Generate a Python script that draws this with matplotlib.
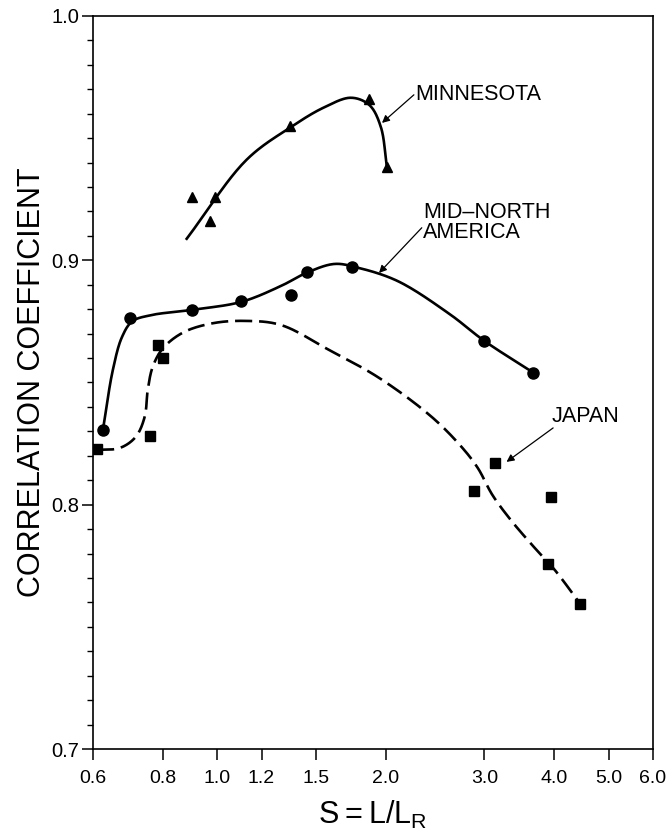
import numpy as np
import matplotlib
matplotlib.use("Agg")
import matplotlib.pyplot as plt
from matplotlib.ticker import MultipleLocator, NullLocator

plt.rcParams['font.family'] = ['Liberation Sans', 'DejaVu Sans']
plt.rcParams['mathtext.fontset'] = 'custom'
plt.rcParams['mathtext.rm'] = 'Liberation Sans'

# measured points
minn_s = [0.90, 0.99, 0.97, 1.35, 1.87, 2.01]
minn_r = [0.926, 0.926, 0.916, 0.955, 0.966, 0.938]

mna_s = [0.625, 0.70, 0.90, 1.105, 1.356, 1.448, 1.741, 3.0, 3.67]
mna_r = [0.8306, 0.8764, 0.8797, 0.8834, 0.8858, 0.8953, 0.8973, 0.867, 0.854]

jap_s = [0.61, 0.783, 0.799, 0.758, 3.13, 2.87, 3.95, 3.90, 4.45]
jap_r = [0.8228, 0.8654, 0.860, 0.828, 0.817, 0.8056, 0.803, 0.7757, 0.7594]

# hand drawn fit curves
minn_fit_s = [0.882, 1.128, 1.356, 1.55, 1.734, 1.87, 1.96, 2.009]
minn_fit_r = [0.9088, 0.9411, 0.9546, 0.9625, 0.9665, 0.9635, 0.9545, 0.9382]

mna_fit_s = [0.625, 0.651, 0.676, 0.705, 0.76, 0.90, 1.105, 1.30, 1.448,
             1.62, 1.78, 2.1, 2.6, 3.0, 3.67]
mna_fit_r = [0.8306, 0.8551, 0.8686, 0.8750, 0.8775, 0.8797, 0.8830, 0.8895, 0.8950,
             0.8985, 0.8970, 0.8915, 0.8780, 0.867, 0.854]

jap_fit_s = [0.61, 0.67, 0.715, 0.742, 0.7516, 0.767, 0.80, 0.87, 0.98, 1.12, 1.30,
             1.584, 1.945, 2.416, 2.732, 2.92, 3.10, 3.35, 3.70, 4.00, 4.45]
jap_fit_r = [0.8224, 0.8232, 0.8277, 0.8359, 0.847, 0.8564, 0.8640, 0.8705, 0.8742, 0.8752, 0.8735,
             0.8633, 0.8519, 0.8359, 0.8236, 0.8150, 0.8040, 0.7935, 0.7820, 0.7735, 0.7594]

xticks = [0.6, 0.8, 1.0, 1.2, 1.5, 2.0, 3.0, 4.0, 5.0, 6.0]
xticklabels = ['0.6', '0.8', '1.0', '1.2', '1.5', '2.0', '3.0', '4.0', '5.0', '6.0']
yticks = [0.7, 0.8, 0.9, 1.0]
yticklabels = ['0.7', '0.8', '0.9', '1.0']


def smooth(xs, ys, n=24):
    # centripetal catmull-rom through the traced points (log x, roughly square scaling)
    p = np.column_stack([np.log10(np.asarray(xs, float)) * 560.0,
                         np.asarray(ys, float) * 2440.0])
    p = np.vstack([2 * p[0] - p[1], p, 2 * p[-1] - p[-2]])
    out = []
    for i in range(1, len(p) - 2):
        p0, p1, p2, p3 = p[i - 1], p[i], p[i + 1], p[i + 2]
        t0 = 0.0
        t1 = t0 + np.linalg.norm(p1 - p0) ** 0.5
        t2 = t1 + np.linalg.norm(p2 - p1) ** 0.5
        t3 = t2 + np.linalg.norm(p3 - p2) ** 0.5
        t = np.linspace(t1, t2, n, endpoint=False)[:, None]
        a1 = (t1 - t) / (t1 - t0) * p0 + (t - t0) / (t1 - t0) * p1
        a2 = (t2 - t) / (t2 - t1) * p1 + (t - t1) / (t2 - t1) * p2
        a3 = (t3 - t) / (t3 - t2) * p2 + (t - t2) / (t3 - t2) * p3
        b1 = (t2 - t) / (t2 - t0) * a1 + (t - t0) / (t2 - t0) * a2
        b2 = (t3 - t) / (t3 - t1) * a2 + (t - t1) / (t3 - t1) * a3
        out.append((t2 - t) / (t2 - t1) * b1 + (t - t1) / (t2 - t1) * b2)
    out.append(p[-2][None, :])
    out = np.vstack(out)
    return 10 ** (out[:, 0] / 560.0), out[:, 1] / 2440.0


fig = plt.figure(figsize=(6.69, 8.36), dpi=100)
ax = fig.add_axes([0.139, 0.104, 0.837, 0.877])

ax.set_xscale('log')
ax.set_xlim(0.6, 6.0)
ax.set_ylim(0.7, 1.0)

lw = 1.9
x, y = smooth(minn_fit_s, minn_fit_r)
ax.plot(x, y, color='black', lw=lw)
x, y = smooth(mna_fit_s, mna_fit_r)
ax.plot(x, y, color='black', lw=lw)
x, y = smooth(jap_fit_s, jap_fit_r)
ax.plot(x, y, color='black', lw=lw, dashes=(6.5, 2.6))

ax.plot(minn_s, minn_r, linestyle='none', marker='^', ms=7.5, color='black')
ax.plot(mna_s, mna_r, linestyle='none', marker='o', ms=8, color='black')
ax.plot(jap_s, jap_r, linestyle='none', marker='s', ms=7.5, color='black')

arrow = dict(arrowstyle='-|>', color='black', lw=0.9, mutation_scale=11, shrinkA=0, shrinkB=0)
ax.annotate('', xy=(1.969, 0.9562), xytext=(2.245, 0.9677), arrowprops=arrow)
ax.text(2.26, 0.9677, 'MINNESOTA', fontsize=15.5, ha='left', va='center')

ax.annotate('', xy=(1.945, 0.8948), xytext=(2.319, 0.9133), arrowprops=arrow)
ax.text(2.33, 0.9153, 'MID\u2013NORTH\nAMERICA', fontsize=15.5, ha='left', va='center',
        linespacing=0.95)

ax.annotate('', xy=(3.286, 0.8175), xytext=(3.98, 0.8314), arrowprops=arrow)
ax.text(3.95, 0.8359, 'JAPAN', fontsize=15.5, ha='left', va='center')

ax.set_xticks(xticks)
ax.set_xticklabels(xticklabels)
ax.xaxis.set_minor_locator(NullLocator())
ax.set_yticks(yticks)
ax.set_yticklabels(yticklabels)
ax.yaxis.set_minor_locator(MultipleLocator(0.01))

ax.tick_params(axis='x', which='major', direction='out', length=8, width=1.1, pad=7, labelsize=14)
ax.tick_params(axis='y', which='major', direction='out', length=8, width=1.1, pad=2, labelsize=14.5)
ax.tick_params(axis='y', which='minor', direction='out', length=4.5, width=1.0)

for sp in ax.spines.values():
    sp.set_linewidth(1.2)

ax.set_ylabel('CORRELATION COEFFICIENT', fontsize=22, labelpad=3)
ax.set_xlabel(r'S$=$L/L$_{\mathrm{R}}$', fontsize=22, labelpad=9)

fig.savefig('out.png', dpi=100)
